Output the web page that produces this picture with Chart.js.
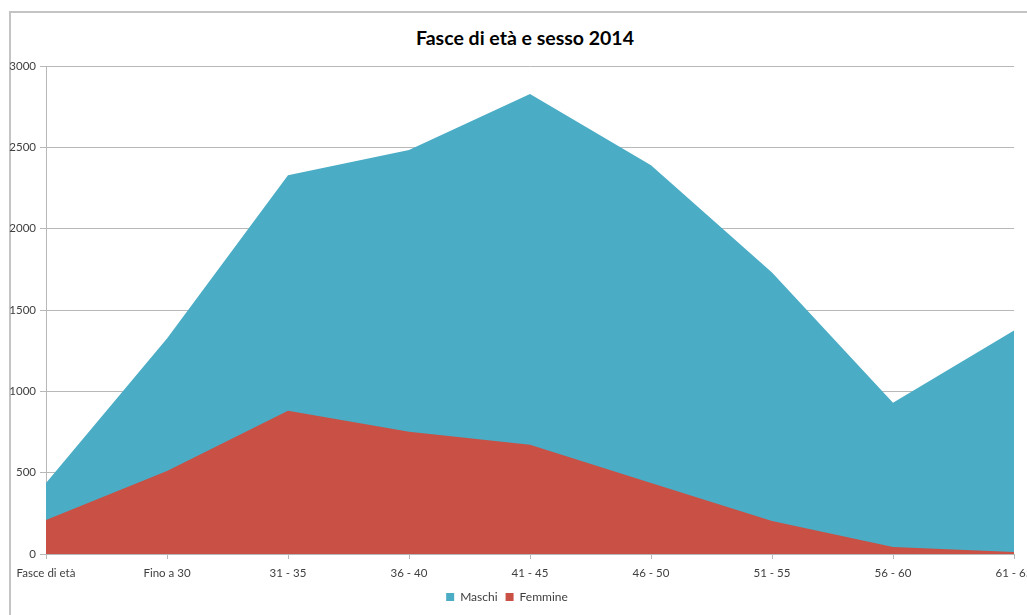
<!DOCTYPE html>
<html lang="it">
<head>
    <meta charset="UTF-8">
    <title>Fasce di età e sesso 2014</title>
    <script src="https://cdn.jsdelivr.net/npm/chart.js"></script>
    <style>
        html, body {
            margin: 0;
            padding: 0;
            background: #fff;
            overflow: hidden;
        }
        .frame {
            position: absolute;
            left: 9px;
            top: 11px;
            width: 1100px;
            height: 700px;
            border-left: 2px solid #c4c4c4;
            border-top: 2px solid #c4c4c4;
        }
        .chart-title {
            position: absolute;
            left: 0;
            top: 25px;
            width: 1050px;
            text-align: center;
            font-family: Lato, "Open Sans", sans-serif;
            font-size: 19.5px;
            font-weight: bold;
            color: #000;
            line-height: 26px;
        }
        .chart-box {
            position: absolute;
            left: 0;
            top: 0;
            width: 1027px;
            height: 615px;
        }
    </style>
</head>
<body>
    <div class="frame"></div>
    <div class="chart-title">Fasce di età e sesso 2014</div>
    <div class="chart-box">
        <canvas id="ageChart"></canvas>
    </div>

    <script>
        // Data
        const categories = ['Fasce di età', 'Fino a 30', '31 - 35', '36 - 40', '41 - 45', '46 - 50', '51 - 55', '56 - 60', '61 - 65'];
        const maschi = [437, 1325, 2329, 2483, 2828, 2390, 1731, 930, 1374];
        const femmine = [209, 511, 881, 752, 672, 437, 203, 43, 12];
        const yTicks = [0, 500, 1000, 1500, 2000, 2500, 3000];

        const gridColor = '#b8b8b8';
        const textColor = '#404040';
        const fontFamily = 'Lato, "Open Sans", sans-serif';

        const ctx = document.getElementById('ageChart').getContext('2d');
        new Chart(ctx, {
            type: 'line',
            data: {
                labels: categories,
                datasets: [
                    {
                        label: 'Femmine',
                        data: femmine,
                        backgroundColor: '#c95045',
                        borderWidth: 0,
                        pointRadius: 0,
                        fill: 'origin',
                        tension: 0
                    },
                    {
                        label: 'Maschi',
                        data: maschi,
                        backgroundColor: '#4aacc5',
                        borderWidth: 0,
                        pointRadius: 0,
                        fill: 'origin',
                        tension: 0
                    }
                ]
            },
            options: {
                responsive: true,
                maintainAspectRatio: false,
                animation: false,
                layout: {
                    padding: { left: 0, right: 13, top: 66, bottom: 2 }
                },
                plugins: {
                    legend: {
                        position: 'bottom',
                        reverse: true,
                        labels: {
                            boxWidth: 8,
                            boxHeight: 8,
                            padding: 8,
                            color: textColor,
                            font: { family: fontFamily, size: 12 }
                        }
                    },
                    tooltip: { enabled: false }
                },
                scales: {
                    x: {
                        offset: false,
                        grid: {
                            drawOnChartArea: false,
                            drawTicks: true,
                            tickLength: 5,
                            color: gridColor
                        },
                        border: { color: gridColor },
                        ticks: {
                            autoSkip: false,
                            maxRotation: 0,
                            padding: 7,
                            color: textColor,
                            font: { family: fontFamily, size: 11.5 }
                        },
                        afterFit: (scale) => {
                            scale.paddingLeft = 0;
                            scale.paddingRight = 0;
                            scale.height = 29;
                        }
                    },
                    y: {
                        min: 0,
                        max: 3000,
                        afterBuildTicks: (scale) => {
                            scale.ticks = yTicks.map(v => ({ value: v }));
                        },
                        grid: {
                            color: gridColor,
                            tickLength: 6
                        },
                        border: { color: gridColor },
                        ticks: {
                            padding: 4,
                            color: textColor,
                            font: { family: fontFamily, size: 11.5 },
                            callback: (value) => String(value)
                        },
                        afterFit: (scale) => {
                            scale.width = 46;
                            scale.paddingTop = 0;
                        }
                    }
                }
            }
        });
    </script>
</body>
</html>
